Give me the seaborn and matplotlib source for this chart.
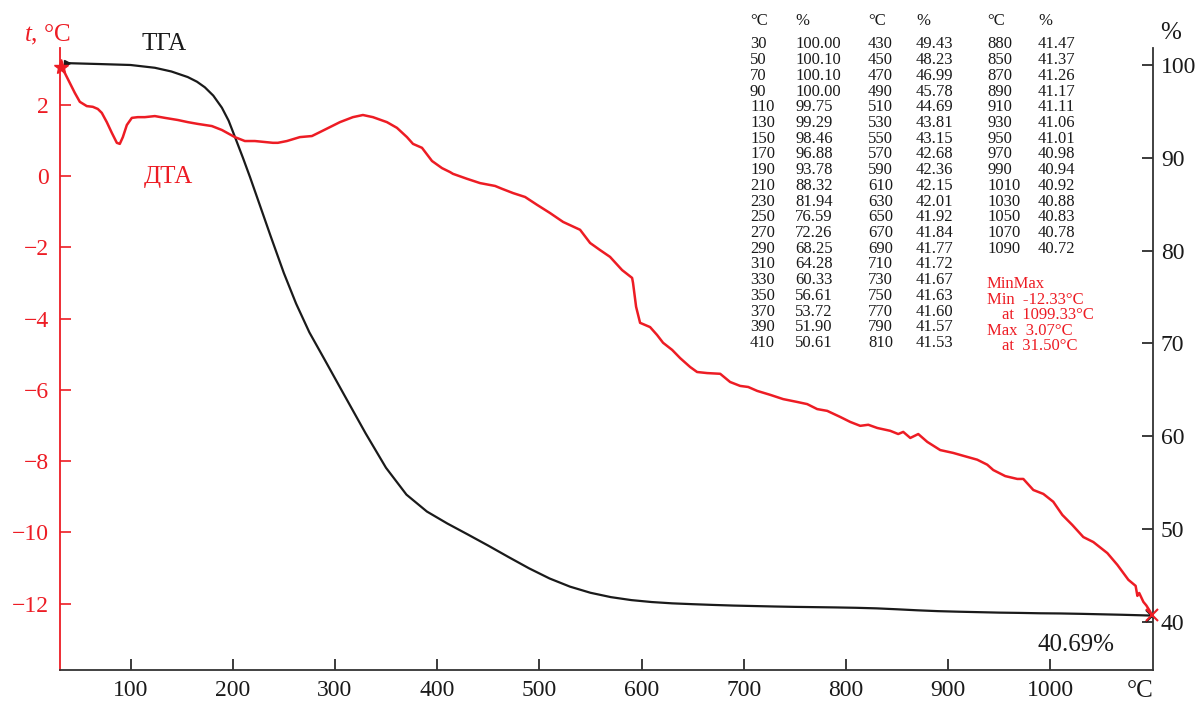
import numpy as np
import pandas as pd
import matplotlib
matplotlib.use("Agg")
import matplotlib.pyplot as plt
import seaborn as sns

RED = "#ED1C24"
BLACK = "#1A1A1A"

# TGA table as printed on the chart (°C, mass %)
tga_temp = [30, 50, 70, 90, 110, 130, 150, 170, 190, 210,
            230, 250, 270, 290, 310, 330, 350, 370, 390, 410,
            430, 450, 470, 490, 510, 530, 550, 570, 590, 610,
            630, 650, 670, 690, 710, 730, 750, 770, 790, 810,
            830, 850, 870, 890, 910, 930, 950, 970, 990, 1010,
            1030, 1050, 1070, 1090]
tga_mass = [100.00, 100.10, 100.10, 100.00, 99.75, 99.29, 98.46, 96.88, 93.78, 88.32,
            81.94, 76.59, 72.26, 68.25, 64.28, 60.33, 56.61, 53.72, 51.90, 50.61,
            49.43, 48.23, 46.99, 45.78, 44.69, 43.81, 43.15, 42.68, 42.36, 42.15,
            42.01, 41.92, 41.84, 41.77, 41.72, 41.67, 41.63, 41.60, 41.57, 41.53,
            41.47, 41.37, 41.26, 41.17, 41.11, 41.06, 41.01, 40.98, 40.94, 40.92,
            40.88, 40.83, 40.78, 40.72]
# the original table misprints 830 as 880
table_label_fix = {830: "880"}
rows_per_col = 20

# the drawn TGA curve runs a little later than the table at the shoulder,
# so its start is read off the picture; from 290 °C on it follows the table
tga_shoulder_temp = [37.6, 70.0, 100.0, 123.8, 140.0, 156.0, 165.0, 172.7, 181.0,
                     189.4, 196.0, 202.0, 210.0, 217.0, 224.0, 237.0, 250.0, 262.0, 275.0]
tga_shoulder_mass = [100.2, 100.1, 100.0, 99.7, 99.3, 98.7, 98.2, 97.6, 96.7,
                     95.4, 94.0, 92.3, 90.0, 87.9, 85.7, 81.6, 77.6, 74.3, 71.2]
tga_table_from = 290
tga_end_temp = 1099.33
tga_end_mass = 40.69

# DTA curve (°C, t °C)
dta_temp = [31.5, 35.7, 40.6, 45.5, 50.4, 57.2, 63.1, 68.0, 71.9, 76.8,
            81.7, 86.6, 89.5, 92.5, 96.4, 101.3, 107.1, 114.0, 123.8, 133.6,
            146.3, 156.1, 165.9, 179.6, 189.4, 202.1, 211.9, 221.7, 239.3, 244.2,
            253.0, 265.7, 277.5, 285.3, 295.1, 304.9, 317.6, 327.4, 337.2, 350.9,
            360.7, 370.5, 376.4, 385.2, 395.0, 404.8, 412.6, 415.5, 429.3, 442.0,
            456.7, 463.5, 474.3, 486.1, 497.8, 510.5, 523.3, 539.9, 549.7, 559.5,
            569.2, 581.0, 590.8, 591.7, 594.7, 598.6, 608.4, 615.2, 621.1, 630.0,
            637.8, 647.6, 654.4, 664.2, 677.0, 686.7, 696.5, 704.4, 713.2, 725.9,
            738.6, 752.3, 762.1, 771.9, 781.7, 794.4, 804.2, 814.0, 821.9, 830.7,
            843.4, 851.2, 856.1, 863.0, 870.8, 879.6, 892.3, 905.0, 914.8, 928.5,
            938.3, 944.2, 955.9, 967.7, 973.6, 983.4, 993.2, 1002.9, 1011.8, 1021.5,
            1032.3, 1042.1, 1055.8, 1065.6, 1076.4, 1083.5, 1085.2, 1087.0, 1091.1, 1094.0,
            1097.9, 1099.33]
dta_value = [3.07, 2.89, 2.61, 2.33, 2.08, 1.96, 1.94, 1.88, 1.77, 1.51,
             1.21, 0.93, 0.90, 1.09, 1.43, 1.63, 1.65, 1.65, 1.68, 1.63,
             1.57, 1.51, 1.46, 1.40, 1.29, 1.09, 0.98, 0.98, 0.93, 0.93,
             0.98, 1.09, 1.12, 1.23, 1.37, 1.51, 1.65, 1.71, 1.65, 1.51,
             1.35, 1.09, 0.90, 0.79, 0.42, 0.22, 0.11, 0.06, -0.08, -0.20,
             -0.28, -0.36, -0.48, -0.59, -0.81, -1.04, -1.29, -1.51, -1.88, -2.08,
             -2.27, -2.64, -2.86, -3.00, -3.67, -4.12, -4.24, -4.46, -4.68, -4.88,
             -5.11, -5.36, -5.50, -5.53, -5.55, -5.78, -5.89, -5.92, -6.03, -6.14,
             -6.26, -6.34, -6.40, -6.54, -6.59, -6.76, -6.90, -7.01, -6.98, -7.07,
             -7.15, -7.24, -7.18, -7.35, -7.24, -7.46, -7.69, -7.77, -7.85, -7.96,
             -8.10, -8.25, -8.42, -8.50, -8.50, -8.81, -8.92, -9.14, -9.51, -9.79,
             -10.13, -10.27, -10.58, -10.91, -11.33, -11.50, -11.78, -11.70, -11.95, -12.05,
             -12.23, -12.33]

dta_max = (31.50, 3.07)
dta_min = (1099.33, -12.33)

x_ticks = [100, 200, 300, 400, 500, 600, 700, 800, 900, 1000]
dta_ticks = [2, 0, -2, -4, -6, -8, -10, -12]
tga_ticks = [40, 50, 60, 70, 80, 90, 100]

sns.set_style("ticks")
plt.rcParams["font.family"] = ["Liberation Serif", "DejaVu Serif"]
plt.rcParams["mathtext.fontset"] = "custom"
plt.rcParams["mathtext.rm"] = "Liberation Serif"
plt.rcParams["mathtext.it"] = "Liberation Serif:italic"
plt.rcParams["axes.unicode_minus"] = True

W, H = 1199, 704
fig = plt.figure(figsize=(W / 100, H / 100), dpi=100)
ax = fig.add_axes([60 / W, 34 / H, 1092.5 / W, 622 / H])
ax2 = ax.twinx()

dta_df = pd.DataFrame({"T": dta_temp, "v": dta_value})
tail = [(t, m) for t, m in zip(tga_temp, tga_mass) if t >= tga_table_from]
tga_df = pd.DataFrame({
    "T": tga_shoulder_temp + [t for t, _ in tail] + [tga_end_temp],
    "m": tga_shoulder_mass + [m for _, m in tail] + [tga_end_mass],
})

sns.lineplot(data=tga_df, x="T", y="m", ax=ax2, color=BLACK, linewidth=1.6,
             estimator=None, sort=False)
ax2.plot(tga_shoulder_temp[0], tga_shoulder_mass[0], marker=">", color=BLACK, markersize=5)
ax2.plot(tga_end_temp, tga_end_mass, marker="x", color=BLACK, markersize=8, mew=1.5)

sns.lineplot(data=dta_df, x="T", y="v", ax=ax, color=RED, linewidth=1.8,
             estimator=None, sort=False)
ax.plot(*dta_max, marker="*", color=RED, markersize=11, clip_on=False)
ax.plot(*dta_min, marker="x", color=RED, markersize=8, mew=1.5, clip_on=False)

# red DTA drawn above the black TGA
ax.set_zorder(2)
ax.patch.set_visible(False)
ax2.set_zorder(1)

ax.set_xlim(31, 1100)
ax.set_ylim(-13.86, 3.59)
ax2.set_ylim(34.83, 101.83)

ax.set_xticks(x_ticks)
ax.set_yticks(dta_ticks)
ax2.set_yticks(tga_ticks)
ax.set_xlabel("")
ax.set_ylabel("")
ax2.set_xlabel("")
ax2.set_ylabel("")

ax.tick_params(axis="x", direction="in", length=8, width=1.2, colors=BLACK,
               labelsize=17, pad=7)
ax.tick_params(axis="y", direction="in", length=8, width=1.2, colors=RED,
               labelsize=17, pad=8)
ax2.tick_params(axis="y", direction="in", length=8, width=1.2, colors=BLACK,
                labelsize=17, pad=6)

for side in ["top", "right"]:
    ax.spines[side].set_visible(False)
for side in ["top", "left", "bottom"]:
    ax2.spines[side].set_visible(False)
ax.spines["left"].set_color(RED)
ax.spines["left"].set_linewidth(1.3)
ax.spines["bottom"].set_color("#333333")
ax.spines["bottom"].set_linewidth(1.3)
ax2.spines["right"].set_color("#333333")
ax2.spines["right"].set_linewidth(1.3)


def fx(px):
    return px / W


def fy(py):
    return 1 - py / H


# axis captions and curve names
fig.text(fx(24), fy(35), r"$t$, °C", color=RED, fontsize=18, va="center", ha="left")
fig.text(fx(1160), fy(33), "%", color=BLACK, fontsize=18, va="center", ha="left")
fig.text(fx(1153), fy(691), "°C", color=BLACK, fontsize=18, va="center", ha="right")
fig.text(fx(141), fy(44), "ТГА", color=BLACK, fontsize=18, va="center", ha="left")
fig.text(fx(144), fy(177), "ДТА", color=RED, fontsize=18, va="center", ha="left")
fig.text(fx(1037), fy(645), f"{tga_end_mass:.2f}%", color=BLACK, fontsize=18,
         va="center", ha="left")

# data table
col_x = [(750, 795), (868, 916), (987, 1038)]
row0, pitch = 44.5, 15.71
for tx, mx in col_x:
    fig.text(fx(tx), fy(21), "°C", fontsize=12, va="center", ha="left", color=BLACK)
    fig.text(fx(mx), fy(21), "%", fontsize=12, va="center", ha="left", color=BLACK)
for i, (t, m) in enumerate(zip(tga_temp, tga_mass)):
    c, r = divmod(i, rows_per_col)
    tx, mx = col_x[c]
    y = row0 + r * pitch
    fig.text(fx(tx), fy(y), table_label_fix.get(t, str(t)), fontsize=12,
             va="center", ha="left", color=BLACK)
    fig.text(fx(mx), fy(y), f"{m:.2f}", fontsize=12, va="center", ha="left", color=BLACK)

minmax_lines = [
    ("MinMax", 987),
    (f"Min  -{abs(dta_min[1]):.2f}°C", 987),
    (f"at  {dta_min[0]:.2f}°C", 1002),
    (f"Max  {dta_max[1]:.2f}°C", 987),
    (f"at  {dta_max[0]:.2f}°C", 1002),
]
for k, (s, x0) in enumerate(minmax_lines):
    fig.text(fx(x0), fy(284 + k * 15.6), s, fontsize=12, va="center", ha="left",
             color=RED)

fig.savefig("out.png", dpi=100)
plt.close(fig)
